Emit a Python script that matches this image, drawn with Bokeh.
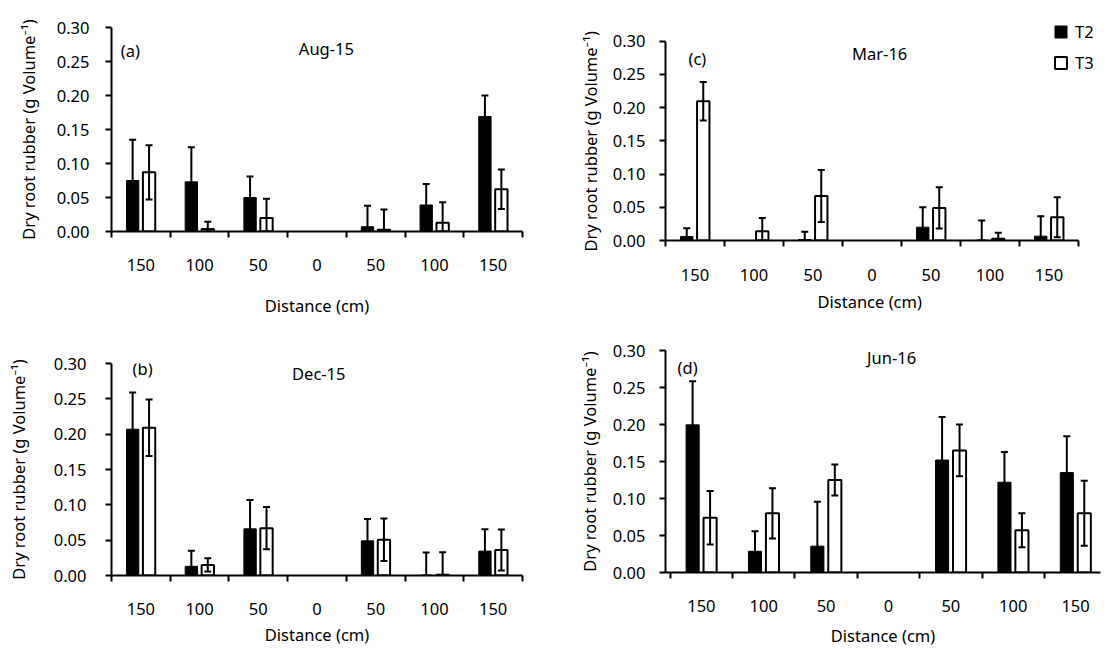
from bokeh.plotting import figure
from bokeh.models import (Range1d, FixedTicker, NumeralTickFormatter, Label, Title,
                          Whisker, TeeHead, ColumnDataSource, Legend, LegendItem)
from bokeh.layouts import row, column
from bokeh.embed import file_html
from bokeh.resources import INLINE

# ---------------- data ----------------
distance_labels = ["150", "100", "50", "0", "50", "100", "150"]
series_names = ["T2", "T3"]
y_ticks = [0.0, 0.05, 0.10, 0.15, 0.20, 0.25, 0.30]

# (a) Aug-15
aug15_t2 = [0.075, 0.073, 0.050, 0.0, 0.007, 0.039, 0.169]
aug15_t2_err = [0.060, 0.051, 0.031, 0.0, 0.031, 0.031, 0.031]
aug15_t3 = [0.087, 0.0035, 0.020, 0.0, 0.0025, 0.013, 0.062]
aug15_t3_err = [0.040, 0.011, 0.028, 0.0, 0.030, 0.030, 0.029]

# (b) Dec-15
dec15_t2 = [0.207, 0.013, 0.066, 0.0, 0.049, 0.0005, 0.0345]
dec15_t2_err = [0.052, 0.022, 0.041, 0.0, 0.031, 0.032, 0.031]
dec15_t3 = [0.209, 0.015, 0.067, 0.0, 0.0506, 0.001, 0.036]
dec15_t3_err = [0.040, 0.0095, 0.030, 0.0, 0.030, 0.032, 0.029]

# (c) Mar-16
mar16_t2 = [0.006, 0.0, 0.0015, 0.0, 0.020, 0.0005, 0.0065]
mar16_t2_err = [0.0126, 0.0, 0.0115, 0.0, 0.030, 0.0295, 0.030]
mar16_t3 = [0.2095, 0.014, 0.067, 0.0, 0.049, 0.0025, 0.035]
mar16_t3_err = [0.029, 0.020, 0.039, 0.0, 0.031, 0.009, 0.030]

# (d) Jun-16
jun16_t2 = [0.1995, 0.0286, 0.0356, 0.0, 0.152, 0.122, 0.135]
jun16_t2_err = [0.059, 0.027, 0.060, 0.0, 0.058, 0.041, 0.049]
jun16_t3 = [0.074, 0.080, 0.125, 0.0, 0.165, 0.057, 0.080]
jun16_t3_err = [0.036, 0.034, 0.021, 0.0, 0.035, 0.023, 0.044]

FONT = "Noto Sans"
FS = "16.5px"
Y_TITLE = "Dry root rubber (g Volume\u207b\u00b9)"
X_TITLE = "Distance (cm)"


def style_axis_label(ax, text, standoff):
    ax.axis_label = text
    ax.axis_label_text_font = FONT
    ax.axis_label_text_font_size = FS
    ax.axis_label_text_font_style = "normal"
    ax.axis_label_text_color = "black"
    ax.axis_label_standoff = standoff


def side_title(p, text, side, offset, standoff):
    p.add_layout(Title(text=text, align="left", offset=offset, standoff=standoff,
                       text_font=FONT, text_font_size=FS, text_font_style="normal",
                       text_color="black"), side)


def make_panel(t2, t2e, t3, t3e, letter, month, cfg, legend=False):
    n = len(distance_labels)
    p = figure(width=cfg["w"], height=cfg["h"], output_backend="svg",
               toolbar_location=None,
               x_range=Range1d(cfg["x0"], cfg["x1"]),
               y_range=Range1d(0, cfg.get("y1", 0.30)),
               min_border_left=cfg["l"], min_border_right=cfg["r"],
               min_border_top=cfg["t"], min_border_bottom=cfg["b"])
    p.outline_line_color = None
    p.xgrid.grid_line_color = None
    p.ygrid.grid_line_color = None
    p.background_fill_color = "white"
    p.border_fill_color = "white"

    renderers = []
    for vals, errs, off, fill, lw in ((t2, t2e, -0.14, "black", 1),
                                      (t3, t3e, 0.14, "white", 2)):
        xs = [i + 0.5 + off for i in range(n)]
        bx = [x for x, v in zip(xs, vals) if v > 0]
        bt = [v for v in vals if v > 0]
        src = ColumnDataSource(dict(x=bx, top=bt))
        r = p.vbar(x="x", top="top", bottom=0, width=0.21, source=src,
                   fill_color=fill, line_color="black", line_width=lw)
        renderers.append(r)
        ex, up, lo = [], [], []
        for x, v, e in zip(xs, vals, errs):
            if e > 0:
                ex.append(x)
                up.append(v + e)
                lo.append(max(v - e, 0.0))
        wsrc = ColumnDataSource(dict(x=ex, upper=up, lower=lo))
        w = Whisker(source=wsrc, base="x", upper="upper", lower="lower",
                    line_color="black", line_width=2, level="overlay",
                    upper_head=TeeHead(size=7, line_width=2, line_color="black"),
                    lower_head=TeeHead(size=7, line_width=2, line_color="black"))
        p.add_layout(w)

    # x axis: labels at group centres, ticks at group boundaries
    xa = p.xaxis[0]
    xa.ticker = FixedTicker(ticks=[i + 0.5 for i in range(n)],
                            minor_ticks=list(range(n + 1)))
    xa.major_label_overrides = {i + 0.5: lab for i, lab in enumerate(distance_labels)}
    xa.bounds = (cfg["x0"], n)
    xa.major_tick_line_color = None
    xa.major_tick_in = 0
    xa.major_tick_out = 0
    xa.minor_tick_line_color = "black"
    xa.minor_tick_line_width = 2
    xa.minor_tick_in = 0
    xa.minor_tick_out = 6
    xa.axis_line_width = 2
    xa.axis_line_color = "black"
    xa.major_label_text_font = FONT
    xa.major_label_text_font_size = FS
    xa.major_label_text_color = "black"
    xa.major_label_standoff = cfg["xls"]

    ya = p.yaxis[0]
    ya.ticker = FixedTicker(ticks=y_ticks, minor_ticks=[])
    ya.bounds = (0, 0.30)
    ya.formatter = NumeralTickFormatter(format="0.00")
    ya.major_tick_line_width = 2
    ya.major_tick_line_color = "black"
    ya.major_tick_in = 0
    ya.major_tick_out = 6
    ya.minor_tick_line_color = None
    ya.axis_line_width = 2
    ya.axis_line_color = "black"
    ya.major_label_text_font = FONT
    ya.major_label_text_font_size = FS
    ya.major_label_text_color = "black"
    ya.major_label_standoff = cfg["yls"]

    if "xtitle_offset" in cfg:
        # titles placed relative to the bounded data area rather than the widened frame
        side_title(p, X_TITLE, "below", cfg["xtitle_offset"], cfg["xts"])
        side_title(p, Y_TITLE, "left", cfg["ytitle_offset"], cfg["yts"])
    else:
        style_axis_label(xa, X_TITLE, cfg["xts"])
        style_axis_label(ya, Y_TITLE, cfg["yts"])

    for txt, (lx, ly) in ((letter, cfg["letter_pos"]), (month, cfg["month_pos"])):
        p.add_layout(Label(x=lx, y=ly, text=txt, text_align="center",
                           text_baseline="middle", text_font=FONT,
                           text_font_size=FS, text_color="black"))

    if legend:
        leg = Legend(items=[LegendItem(label=series_names[0], renderers=[renderers[0]]),
                            LegendItem(label=series_names[1], renderers=[renderers[1]])],
                     location=cfg["legend_loc"], orientation="vertical",
                     glyph_width=15, glyph_height=15, label_height=15,
                     label_standoff=7, spacing=8, padding=0, margin=0,
                     border_line_color=None, background_fill_alpha=0,
                     label_text_font=FONT, label_text_font_size=FS,
                     label_text_color="black", label_text_baseline="middle")
        p.add_layout(leg, "center")
    return p


cfg_a = dict(w=560, h=330, l=100, r=20, t=27, b=99, x0=0, x1=7,
             xls=21, xts=20, yls=16, yts=14,
             letter_pos=(0.32, 0.266), month_pos=(3.66, 0.269))
cfg_b = dict(w=560, h=319, l=111, r=38, t=33, b=74, x0=0, x1=7,
             xls=21, xts=5, yls=19, yts=21,
             letter_pos=(0.53, 0.293), month_pos=(3.53, 0.286))
# panel (c): frame widened/raised so the legend fits; axes bounded to the data area
cfg_c = dict(w=560, h=330, l=105, r=20, t=10, b=90, x0=0, x1=7.373, y1=0.3462,
             xls=22, xts=9, yls=14, yts=16, xtitle_offset=152, ytitle_offset=-11,
             letter_pos=(0.54, 0.274), month_pos=(3.63, 0.282),
             legend_loc=(388, 166))
cfg_d = dict(w=560, h=319, l=96, r=0, t=20, b=68, x0=-0.075, x1=6.90,
             xls=21, xts=9, yls=14, yts=9,
             letter_pos=(0.28, 0.2775), month_pos=(3.55, 0.291))

pa = make_panel(aug15_t2, aug15_t2_err, aug15_t3, aug15_t3_err, "(a)", "Aug-15", cfg_a)
pb = make_panel(dec15_t2, dec15_t2_err, dec15_t3, dec15_t3_err, "(b)", "Dec-15", cfg_b)
pc = make_panel(mar16_t2, mar16_t2_err, mar16_t3, mar16_t3_err, "(c)", "Mar-16", cfg_c, legend=True)
pd_ = make_panel(jun16_t2, jun16_t2_err, jun16_t3, jun16_t3_err, "(d)", "Jun-16", cfg_d)

p = row(column(pa, pb, spacing=0), column(pc, pd_, spacing=0), spacing=0)

html = file_html(p, INLINE)
open("out.html", "w").write(html)
